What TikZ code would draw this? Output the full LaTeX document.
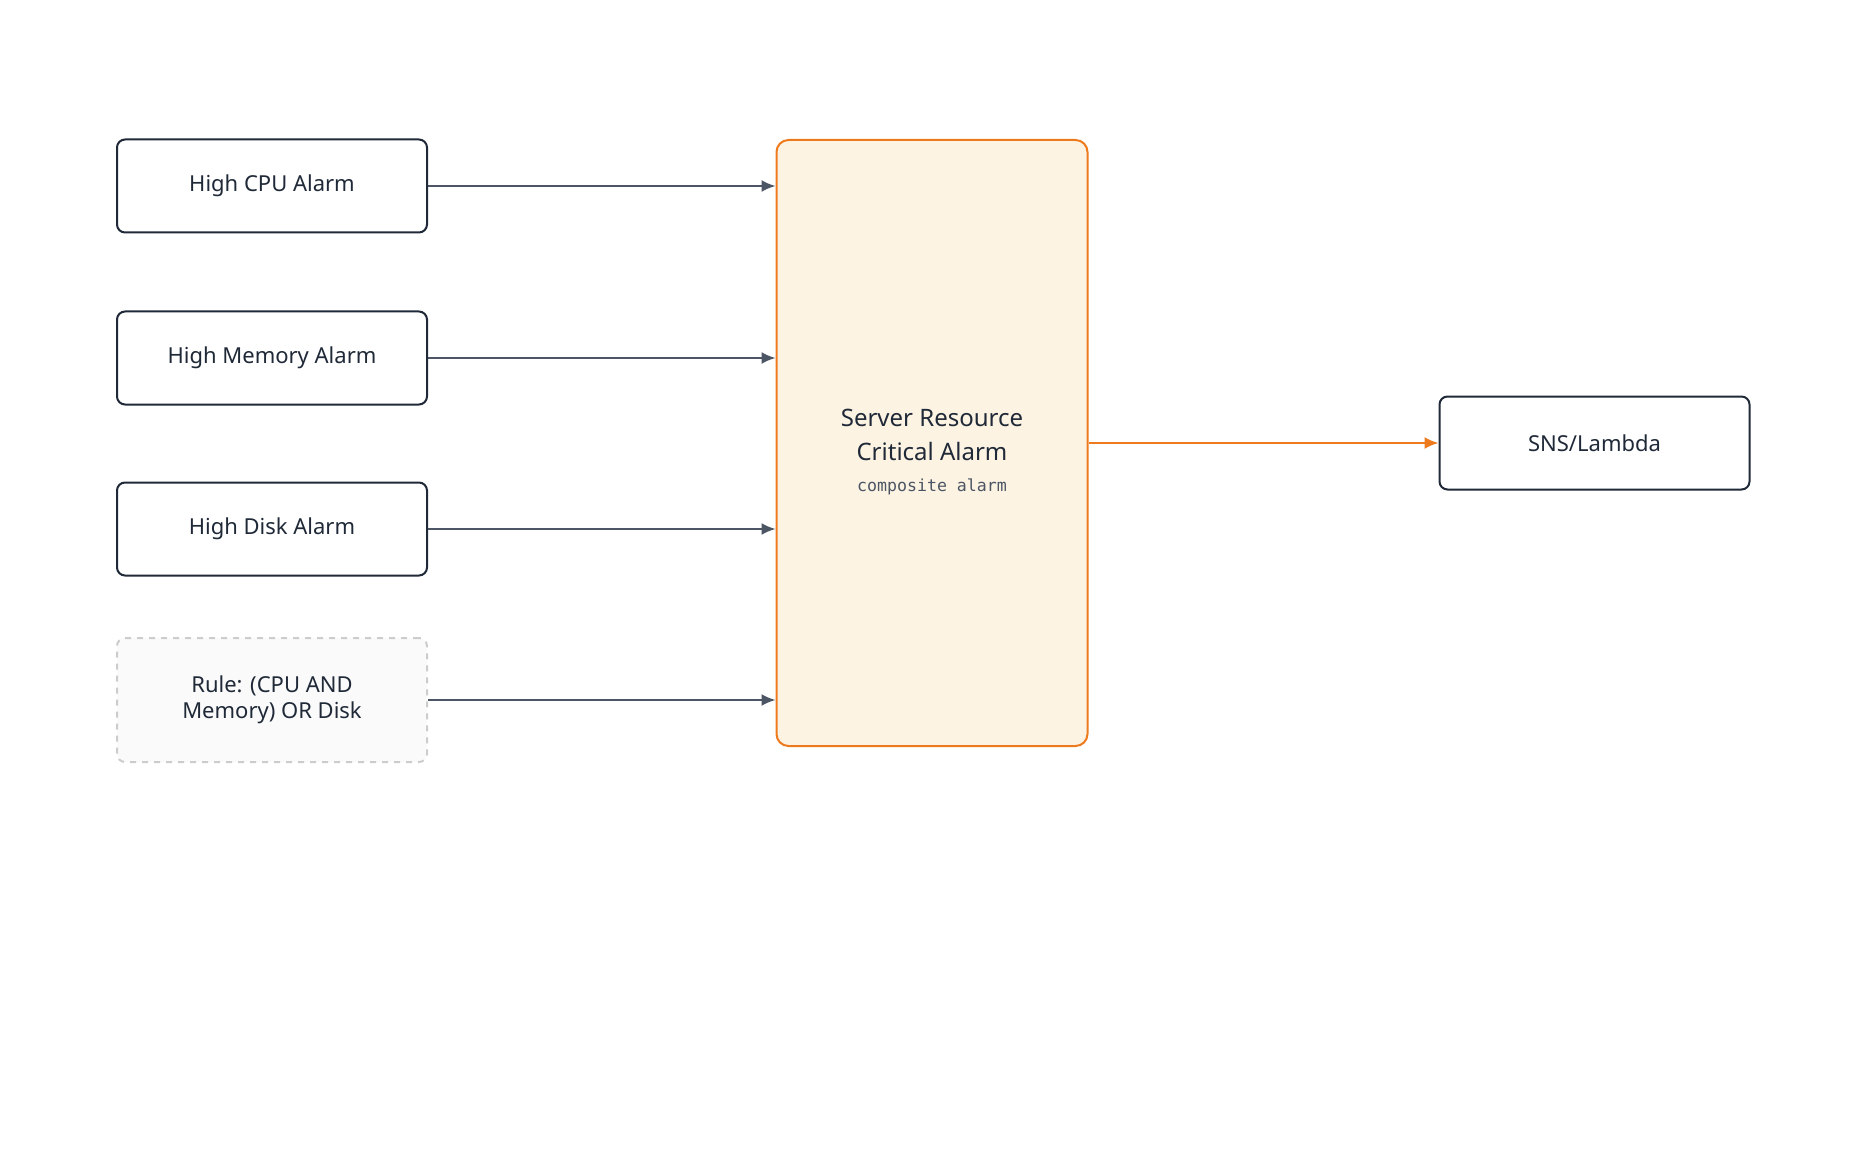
\documentclass[tikz,border=0pt]{standalone}
\usepackage{fontspec}
\setmainfont{Noto Sans}
\setmonofont{DejaVu Sans Mono}
\usetikzlibrary{positioning,arrows.meta}
\definecolor{ink}{HTML}{1F2937}
\definecolor{wire}{HTML}{4B5563}
\definecolor{amber}{HTML}{EE7A1E}
\definecolor{amberfill}{HTML}{FDF3E3}
\definecolor{rulegray}{HTML}{CCCCCC}
\definecolor{rulefill}{HTML}{FAFAFA}
\begin{document}
\begin{tikzpicture}[x=0.5pt,y=-0.5pt]
\tikzstyle{alarm}=[draw=ink, line width=1pt, rounded corners=4pt, fill=white,
  minimum width=155pt, minimum height=46.5pt, font=\bfseries\fontsize{11}{13}\selectfont, text=ink, align=center]
\tikzstyle{rule}=[alarm, draw=rulegray, dashed, fill=rulefill, minimum height=62pt]
\tikzstyle{feed}=[draw=wire, line width=1pt, -{Latex[length=7pt,width=6pt]}]
\useasboundingbox (0,0) rectangle (1856,1160);

\node[alarm] (cpu) at (272,186) {High CPU Alarm};
\node[alarm] (mem) at (272,358) {High Memory Alarm};
\node[alarm] (disk) at (272,529) {High Disk Alarm};
\node[rule] (rule) at (272,700) {Rule: (CPU AND\\Memory) OR Disk};
\node[draw=amber, fill=amberfill, line width=1pt, rounded corners=6pt,
  minimum width=155.5pt, minimum height=303pt] (comp) at (932,443) {};
\node[font=\bfseries\fontsize{12}{17}\selectfont, text=ink, align=center] (title) at (932,435) {Server Resource\\Critical Alarm};
\node[font=\ttfamily\fontsize{8.3}{10}\selectfont, text=wire, below=2pt of title] (kind) {composite alarm};
\node[alarm, right=175pt of comp] (sns) {SNS/Lambda};

\draw[feed] (cpu) -- (comp.west |- cpu);
\draw[feed] (mem) -- (comp.west |- mem);
\draw[feed] (disk) -- (comp.west |- disk);
\draw[feed] (rule) -- (comp.west |- rule);
\draw[feed, draw=amber] (comp) -- (sns);
\end{tikzpicture}
\end{document}
